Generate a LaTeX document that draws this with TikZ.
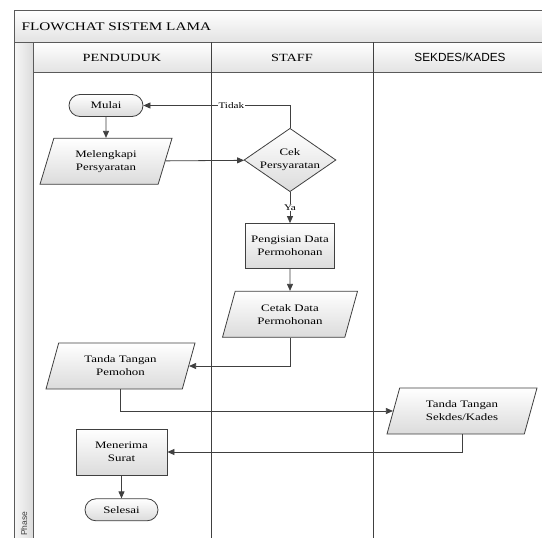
\documentclass[tikz,border=0pt]{standalone}
\usepackage{fontspec}
\setmainfont{Liberation Serif}[FakeStretch=1.3]
\setsansfont{Liberation Sans}
\usepackage{xcolor}
\usetikzlibrary{shapes.geometric, positioning, arrows.meta}

\definecolor{garis}{HTML}{404040}
\definecolor{bingkai}{HTML}{5A5A5A}

\begin{document}
\begin{tikzpicture}[x=1pt, y=-1pt, line width=0.8pt, >={Triangle[length=7pt, width=6pt]},
    isi/.style={draw=garis, top color=white, bottom color=black!14, align=center, inner sep=1pt,
        font=\fontsize{9.9}{13}\selectfont},
    terminal/.style={isi, rectangle, rounded corners=11pt, minimum width=74pt, minimum height=22pt},
    proses/.style={isi, rectangle, minimum width=89pt, minimum height=45pt},
    dataio/.style={isi, trapezium, trapezium left angle=60, trapezium right angle=120,
        trapezium stretches body, minimum height=46pt},
    keputusan/.style={isi, diamond, aspect=1.45, minimum width=90pt, minimum height=62pt, inner sep=0pt},
    ket/.style={fill=white, inner sep=1pt, text=black, font=\fontsize{8.6}{10}\selectfont},
    siku/.style={to path={|- (\tikztotarget) \tikztonodes}},
    pita/.style={draw=bingkai, top color=white, bottom color=black!11},
    kepala/.style={font=\fontsize{11}{13}\selectfont}]
    \useasboundingbox (0,0) rectangle (542,538);

    % kerangka swimlane
    \draw[pita] (14,10) rectangle (560,42);
    \draw[pita] (33,42) rectangle (560,72);
    \draw[draw=bingkai, left color=black!3, right color=black!14] (14,42) rectangle (33,560);
    \draw[draw=bingkai, fill=white] (33,72) rectangle (560,560);
    \draw[draw=garis, line width=1pt] (211,42) -- (211,560) (373,42) -- (373,560);
    \node[anchor=west, font=\fontsize{11.7}{14}\selectfont] (judul) at (18,26.5) {FLOWCHAT SISTEM LAMA};
    \node[kepala] (penduduk) at (122,57.5) {PENDUDUK};
    \node[kepala] (staff) at (292,57.5) {STAFF};
    \node[font=\sffamily\fontsize{11.8}{14}\selectfont] (sekdeskades) at (460,57.5) {SEKDES/KADES};
    \node[rotate=90, anchor=east, text=garis, font=\sffamily\fontsize{8.5}{10}\selectfont] (fase) at (24,508) {Phase};

    % simbol
    \node[terminal] (mulai) at (106,105.5) {Mulai};
    \node[dataio, minimum width=132pt] (melengkapi) [below=21pt of mulai] {Melengkapi\\Persyaratan};
    \node[keputusan] (cek) at (290,160) {Cek\\Persyaratan};
    \node[proses] (pengisian) [below=31pt of cek] {Pengisian Data\\Permohonan};
    \node[dataio, minimum width=135pt] (cetak) [below=22pt of pengisian] {Cetak Data\\Permohonan};
    \node[dataio, minimum width=149pt] (pemohon) at (120.5,366) {Tanda Tangan\\Pemohon};
    \node[dataio, minimum width=150pt] (sekdes) at (462,411) {Tanda Tangan\\Sekdes/Kades};
    \node[proses, minimum width=91pt, minimum height=46pt] (menerima) at (121.5,452) {Menerima\\Surat};
    \node[terminal, minimum width=73pt] (selesai) [below=23pt of menerima] {Selesai};

    \path[->, garis]
    (mulai) edge (melengkapi)
    (melengkapi) edge (cek)
    (cek.north) edge[siku] node[ket, pos=0.7] {Tidak} (mulai.east)
    (cek) edge node[ket] {Ya} (pengisian)
    (pengisian) edge (cetak)
    (cetak.south) edge[siku] (pemohon.east)
    (pemohon.south) edge[siku] (sekdes.west)
    (sekdes.south) edge[siku] (menerima.east)
    (menerima) edge (selesai);
\end{tikzpicture}
\end{document}
